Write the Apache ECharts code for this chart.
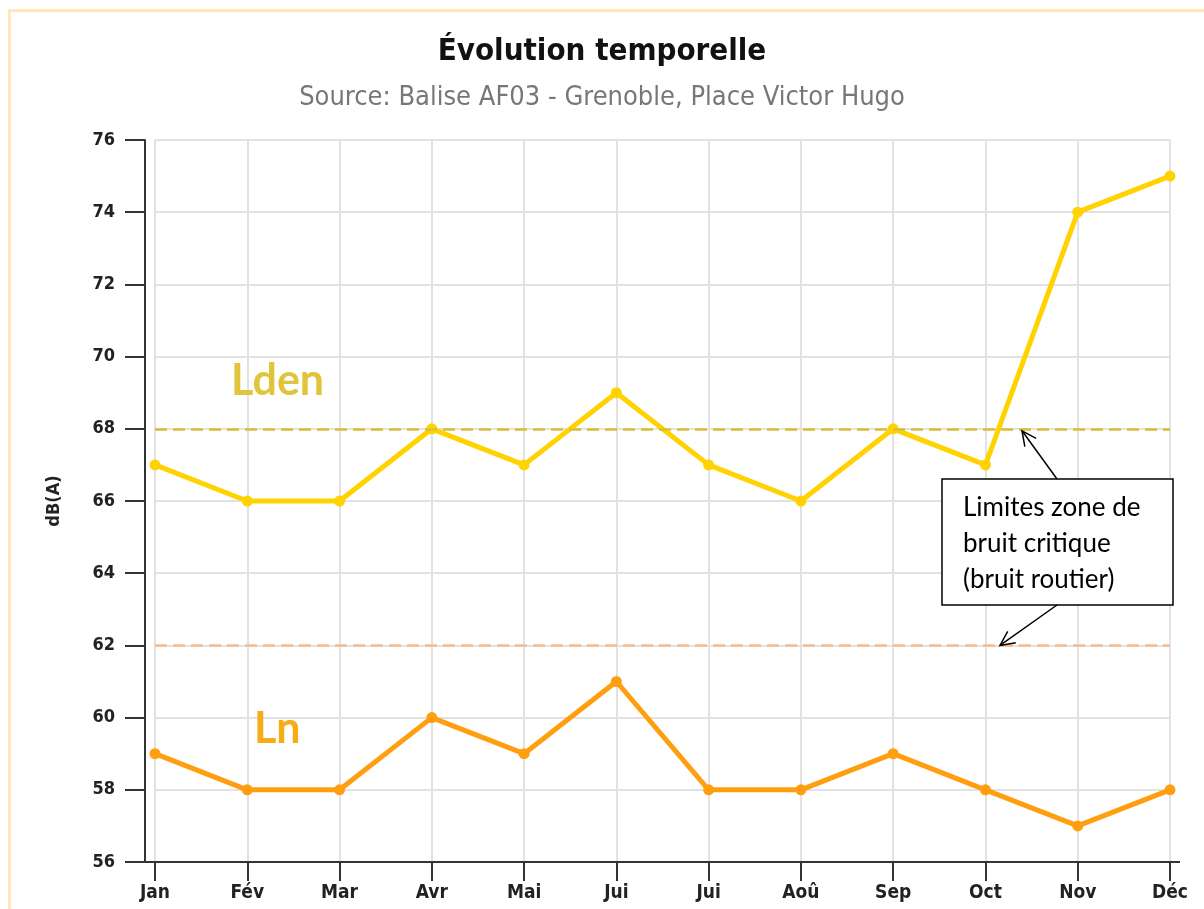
<!DOCTYPE html>
<html>
<head>
<meta charset="utf-8">
<script src="https://cdn.jsdelivr.net/npm/echarts@6/dist/echarts.min.js"></script>
<style>
html,body{margin:0;padding:0;background:#fff;}
#frame{position:absolute;left:8px;top:9px;width:1210px;height:920px;border:3px solid #fde8bc;box-sizing:border-box;}
#c{position:absolute;left:0;top:0;width:1204px;height:909px;}
</style>
</head>
<body>
<div id="frame"></div>
<div id="c"></div>
<script>
const months = ['Jan','Fév','Mar','Avr','Mai','Jui','Jui','Aoû','Sep','Oct','Nov','Déc'];
const lden = [67,66,66,68,67,69,67,66,68,67,74,75];
const ln = [59,58,58,60,59,61,58,58,59,58,57,58];
const limitLden = 68;
const limitLn = 62;
const yTicks = {min:56, max:76, interval:2};
const titleText = 'Évolution temporelle';
const subtitleText = 'Source: Balise AF03 - Grenoble, Place Victor Hugo';
const noteLines = ['Limites zone de', 'bruit critique', '(bruit routier)'];

const FONT = '"DejaVu Sans Condensed", "DejaVu Sans", sans-serif';
const chart = echarts.init(document.getElementById('c'));
chart.setOption({
  backgroundColor: 'transparent',
  animation: false,
  title: {
    text: titleText, subtext: subtitleText, left: 'center', top: 31, itemGap: 17,
    textStyle: {fontFamily: FONT, fontWeight: 'bold', fontSize: 31, color: '#111'},
    subtextStyle: {fontFamily: FONT, fontSize: 27, color: '#777'}
  },
  grid: {left: 155, right: 34, top: 140, bottom: 47},
  xAxis: {
    type: 'category', data: months, boundaryGap: false,
    axisLine: {lineStyle: {color: '#333', width: 2}},
    axisTick: {show: true, length: 19, lineStyle: {color: '#333', width: 2}},
    axisLabel: {margin: 22, fontFamily: FONT, fontSize: 19, fontWeight: 'bold', color: '#222'},
    splitLine: {show: true, lineStyle: {color: '#e2e2e2', width: 2}}
  },
  yAxis: {
    type: 'value', min: yTicks.min, max: yTicks.max, interval: yTicks.interval, offset: 10,
    name: 'dB(A)', nameLocation: 'middle', nameGap: 82, nameRotate: 90,
    nameTextStyle: {fontFamily: FONT, fontSize: 18, fontWeight: 'bold', color: '#222'},
    axisLine: {show: true, lineStyle: {color: '#333', width: 2}},
    axisTick: {show: true, length: 20, lineStyle: {color: '#333', width: 2}},
    axisLabel: {margin: 30, fontFamily: FONT, fontSize: 18, fontWeight: 'bold', color: '#222'},
    splitLine: {show: true, lineStyle: {color: '#e2e2e2', width: 2}}
  },
  series: [
    {
      name: 'Lden', type: 'line', data: lden, symbol: 'circle', symbolSize: 11,
      lineStyle: {color: '#ffd200', width: 5}, itemStyle: {color: '#ffd200'},
      markLine: {
        silent: true, symbol: 'none', label: {show: false},
        lineStyle: {color: '#d8be38', type: [12, 6], width: 2.5},
        data: [{yAxis: limitLden}]
      }
    },
    {
      name: 'Ln', type: 'line', data: ln, symbol: 'circle', symbolSize: 11,
      lineStyle: {color: '#ff9f0f', width: 5}, itemStyle: {color: '#ff9f0f'},
      markLine: {
        silent: true, symbol: 'none', label: {show: false},
        lineStyle: {color: '#f9ba8c', type: [12, 6], width: 2.5},
        data: [{yAxis: limitLn}]
      }
    }
  ]
});

function drawExtras() {
  const p0 = chart.convertToPixel({gridIndex: 0}, [0, yTicks.min]);
  const p11 = chart.convertToPixel({gridIndex: 0}, [11, yTicks.min]);
  const yL = chart.convertToPixel({gridIndex: 0}, [0, limitLden]);
  const yN = chart.convertToPixel({gridIndex: 0}, [0, limitLn]);
  const boxX = 942, boxY = 479, boxW = 231, boxH = 126;
  const topTip = [1022, yL[1] + 2];
  const botTip = [1000, yN[1]];
  const topStart = [1057, boxY];
  const botStart = [1057, boxY + boxH];
  function head(tip, from) {
    const a = Math.atan2(from[1] - tip[1], from[0] - tip[0]);
    const L = 16, s = 0.45;
    return [[tip[0] + L * Math.cos(a + s), tip[1] + L * Math.sin(a + s)], tip, [tip[0] + L * Math.cos(a - s), tip[1] + L * Math.sin(a - s)]];
  }
  const ann = {fontFamily: 'Lato, sans-serif', fontSize: 26, fill: '#000'};
  chart.setOption({
    graphic: [
      {type: 'line', shape: {x1: p0[0] - 30, y1: p0[1], x2: p11[0] + 10, y2: p0[1]}, style: {stroke: '#333', lineWidth: 2}, z: 10},
      {type: 'text', left: 231, top: 360, style: {text: 'Lden', fontFamily: 'Lato, sans-serif', fontWeight: 'bold', fontSize: 43, fill: '#e0c43c'}, z: 10},
      {type: 'text', left: 254, top: 708, style: {text: 'Ln', fontFamily: 'Lato, sans-serif', fontWeight: 'bold', fontSize: 43, fill: '#f7ab16'}, z: 10},
      {type: 'rect', shape: {x: boxX, y: boxY, width: boxW, height: boxH}, style: {fill: '#fff', stroke: '#000', lineWidth: 1.5}, z: 20},
      {type: 'text', x: boxX + 21, y: boxY + 11, style: Object.assign({text: noteLines.join('\n'), lineHeight: 36}, ann), z: 21},
      {type: 'line', shape: {x1: topStart[0], y1: topStart[1], x2: topTip[0], y2: topTip[1]}, style: {stroke: '#000', lineWidth: 1.5}, z: 20},
      {type: 'polyline', shape: {points: head(topTip, topStart)}, style: {stroke: '#000', lineWidth: 1.5, fill: null}, z: 20},
      {type: 'line', shape: {x1: botStart[0], y1: botStart[1], x2: botTip[0], y2: botTip[1]}, style: {stroke: '#000', lineWidth: 1.5}, z: 20},
      {type: 'polyline', shape: {points: head(botTip, botStart)}, style: {stroke: '#000', lineWidth: 1.5, fill: null}, z: 20}
    ]
  });
}
drawExtras();
</script>
</body>
</html>
